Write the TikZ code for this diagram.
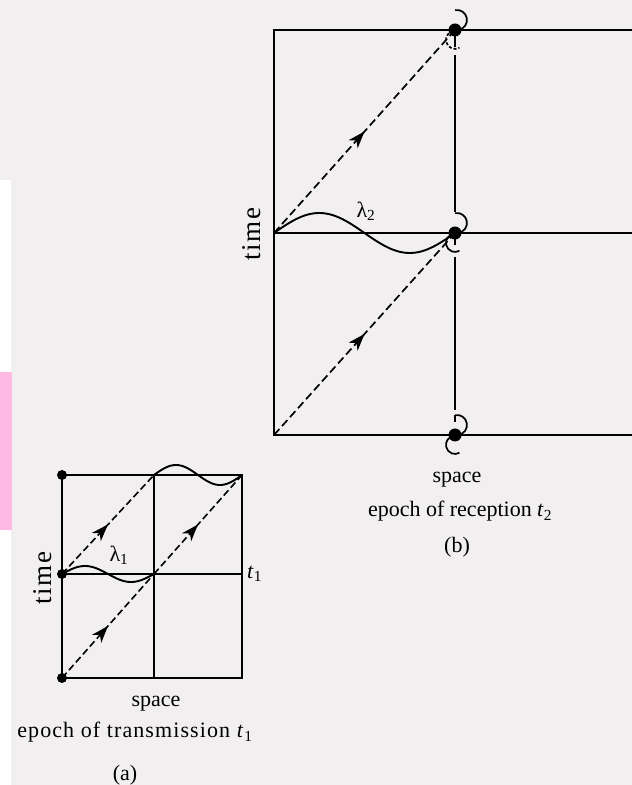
\documentclass[tikz,border=0pt]{standalone}
\usepackage{fontspec}
\setmainfont{Liberation Serif}
\newfontfamily\spacedfont[LetterSpace=6]{Liberation Serif}
\newfontfamily\widefont[LetterSpace=5]{Liberation Serif}
\usetikzlibrary{arrows.meta,decorations.markings}
\definecolor{paper}{RGB}{241,239,239}
\definecolor{tabpink}{RGB}{255,186,227}

\tikzset{
  frame/.style={line width=2pt},
  thinline/.style={line width=1.6pt},
  wave/.style={line width=1.9pt, smooth},
  midarrow/.style={postaction={decorate}, decoration={markings,
      mark=at position 0.5 with {\arrow[solid]{Stealth[length=17pt,width=12pt,inset=5pt]}}}},
  rayA/.style={line width=1.6pt, dash pattern=on 7pt off 3.5pt, midarrow},
  rayB/.style={line width=1.7pt, dash pattern=on 8pt off 4pt, midarrow},
  caption/.style={font=\fontsize{22}{26}\selectfont, inner sep=0pt, anchor=base},
  greek/.style={font=\fontsize{22}{26}\selectfont, inner sep=0pt},
}

% dot with the two hooks round it
\newcommand{\spinmark}[2][]{%
  \fill (#2) circle (6.5pt);
  \begin{scope}[shift={(#2)}]
    \draw[line width=1.7pt] (3.7,0.2) arc[start angle=-80, end angle=100, radius=10];
    \draw[line width=1.7pt, #1] (-1.6,-1.1) arc[start angle=100, end angle=300, radius=9];
  \end{scope}}

\begin{document}
\begin{tikzpicture}[x=1pt,y=1pt]
  \useasboundingbox (0,0) rectangle (632,785);

  % Paper
  \fill[paper] (0,0) rectangle (632,785);
  \fill[white] (0,0) rectangle (11,605);
  \fill[tabpink] (0,255) rectangle (12,413);

  % Box (a): transmission
  \coordinate (a-bl) at (62,107);
  \coordinate (a-ml) at (62,211);
  \coordinate (a-tl) at (62,310);
  \coordinate (a-bc) at (154,107);
  \coordinate (a-mc) at (154,211);
  \coordinate (a-tc) at (154,310);
  \coordinate (a-br) at (242,107);
  \coordinate (a-mr) at (242,211);
  \coordinate (a-tr) at (242,310);

  \draw[frame] (a-bl) rectangle (a-tr);
  \draw[thinline] (a-ml) -- (a-mr);
  \draw[thinline] (a-bc) -- (a-tc);

  \fill (a-bl) circle (5pt);
  \fill (a-ml) circle (5pt);
  \fill (a-tl) circle (5pt);

  % Light rays (a)
  \draw[rayA] (a-ml) -- (a-tc);
  \draw[rayA] (a-bl) -- (a-mc);
  \draw[rayA] (a-mc) -- (a-tr);

  % Waves (a)
  \draw[wave, shift={(a-ml)}] plot[domain=0:1, samples=50] ({92*\x},{8*sin(360*\x)});
  \draw[wave, shift={(a-tc)}] plot[domain=0:1, samples=50] ({88*\x},{10*sin(360*\x)});

  % Labels (a)
  \node[greek] (lamA) at (119,230) {λ\textsubscript{1}};
  \node[caption, anchor=west] (tA) at (247,211) {\textit{t}\textsubscript{1}};
  \node[caption, anchor=center, rotate=90, font=\spacedfont\fontsize{27}{30}\selectfont] (timeA) at (43,207) {time};
  \node[caption] (spaceA) at (156,78) {space};
  \node[caption, font=\widefont\fontsize{22}{26}\selectfont] (epochA) at (135,47) {epoch of transmission \textit{t}\textsubscript{1}};
  \node[caption] (capA) at (125,5) {(a)};

  % Box (b): reception
  \coordinate (b-bl) at (274,350);
  \coordinate (b-ml) at (274,552);
  \coordinate (b-tl) at (274,755);
  \coordinate (b-bc) at (455,350);
  \coordinate (b-mc) at (455,552);
  \coordinate (b-tc) at (455,755);
  \coordinate (b-br) at (632,350);
  \coordinate (b-mr) at (632,552);
  \coordinate (b-tr) at (632,755);

  \draw[frame] (b-br) -- (b-bl) -- (b-tl) -- (b-tr);
  \draw[frame] (b-ml) -- (b-mr);
  \draw[thinline, dash pattern=on 0pt off 6pt on 11pt off 8pt on 157pt off 26pt
        on 7pt off 12pt on 153pt off 5pt on 7pt off 20pt] (b-tc) -- (b-bc);

  % Light rays (b)
  \draw[rayB] (b-ml) -- (b-tc);
  \draw[rayB] (b-bl) -- (b-mc);

  % Wave (b)
  \draw[wave, shift={(b-ml)}] plot[domain=0:1, samples=60] ({181*\x},{20*sin(360*\x)});

  % Receiver marks
  \spinmark[dash pattern=on 3pt off 2pt]{b-tc}
  \spinmark{b-mc}
  \spinmark{b-bc}

  % Labels (b)
  \node[greek] (lamB) at (366,574) {λ\textsubscript{2}};
  \node[caption, anchor=center, rotate=90, font=\spacedfont\fontsize{27}{30}\selectfont] (timeB) at (252,551) {time};
  \node[caption] (spaceB) at (457,302) {space};
  \node[caption] (epochB) at (460,268) {epoch of reception \textit{t}\textsubscript{2}};
  \node[caption] (capB) at (457,232) {(b)};
\end{tikzpicture}
\end{document}
